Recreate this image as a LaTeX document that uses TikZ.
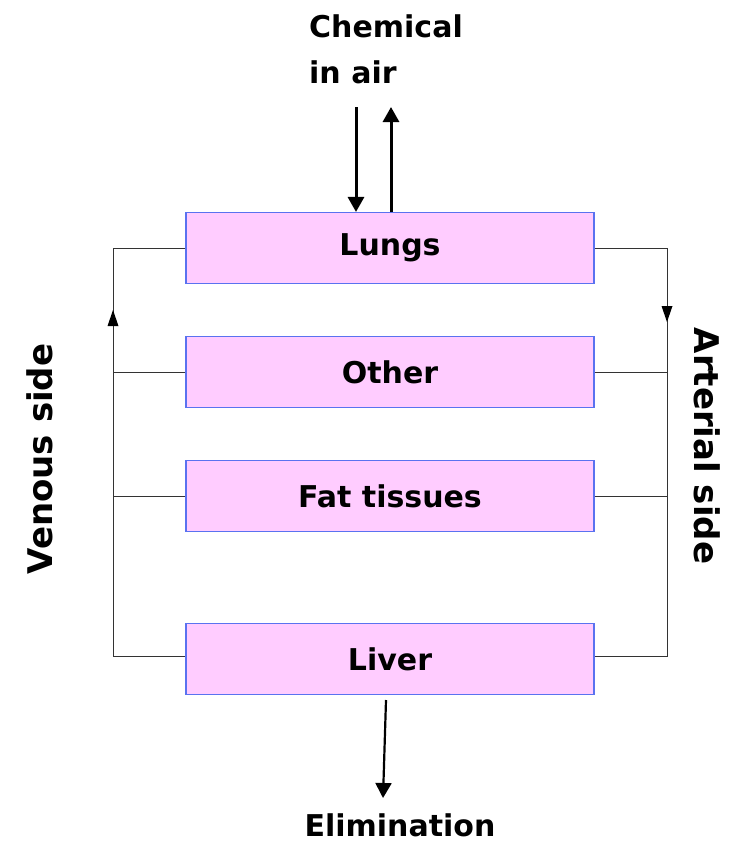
\documentclass[tikz,border=0pt]{standalone}
\usepackage{fontspec}
\setmainfont{DejaVu Sans}
\usetikzlibrary{arrows.meta}
\definecolor{boxfill}{HTML}{FFCCFF}
\definecolor{boxline}{HTML}{5A72F0}
\definecolor{wire}{HTML}{333333}
\begin{document}
\begin{tikzpicture}[x=1pt,y=-1pt,
  organ/.style={draw=boxline,fill=boxfill,line width=1.1pt,minimum width=408pt,minimum height=71pt,inner sep=0pt,font=\fontsize{30}{36}\selectfont\bfseries},
  lbl/.style={font=\fontsize{30}{36}\selectfont\bfseries,inner sep=0pt},
  sidelbl/.style={font=\fontsize{34}{40}\selectfont\bfseries,inner sep=0pt},
  wirel/.style={draw=wire,line width=1pt},
  arr/.style={draw=black,line width=3pt,-{Triangle[length=15pt,width=16pt]}}]
\useasboundingbox (0,0) rectangle (740,846);
\node[organ] (lungs) at (390,248) {Lungs};
\node[organ] (other) at (390,372) {Other};
\node[organ] (fat) at (390,496) {Fat tissues};
\node[organ] (liver) at (390,659) {Liver};
\node[lbl,anchor=base west] (chem) at (309,37) {Chemical};
\node[lbl,anchor=base west] (inair) at (309,83) {in air};
\node[lbl,anchor=base] (elim) at (400,836) {Elimination};
\node[sidelbl,rotate=90] (venous) at (40,459) {Venous side};
\node[sidelbl,rotate=-90] (arterial) at (707,446) {Arterial side};
\coordinate (vtop) at (113,248);
\coordinate (vbot) at (113,656);
\coordinate (atop) at (667,248);
\coordinate (abot) at (667,656);
\draw[wirel] (lungs.west) -- (vtop) -- (vbot) -- (liver.west |- vbot);
\draw[wirel] (other.west) -- (other.west -| vtop);
\draw[wirel] (fat.west) -- (fat.west -| vtop);
\draw[wirel] (lungs.east) -- (atop) -- (abot) -- (liver.east |- abot);
\draw[wirel] (other.east) -- (other.east -| atop);
\draw[wirel] (fat.east) -- (fat.east -| atop);
\coordinate (varr) at (113,310);
\coordinate (aarr) at (667,322);
\fill[black] (varr) -- ++(-5.5,16) -- ++(11,0) -- cycle;
\fill[black] (aarr) -- ++(-5.5,-16) -- ++(11,0) -- cycle;
\coordinate (inS) at (356,107);
\coordinate (outE) at (391,107);
\draw[arr] (inS) -- (inS |- lungs.north);
\draw[arr] (outE |- lungs.north) -- (outE);
\coordinate (elS) at (386,700);
\coordinate (elE) at (383,798);
\draw[arr,line width=2.2pt] (elS) -- (elE);
\end{tikzpicture}
\end{document}
